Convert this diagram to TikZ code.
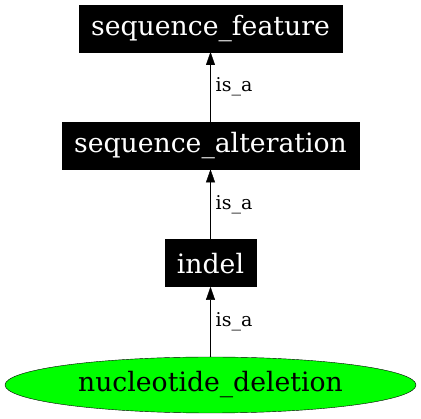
\documentclass[tikz,border=0pt]{standalone}
\usepackage{fontspec}
\setmainfont{DejaVu Serif}
\usetikzlibrary{arrows.meta,positioning,shapes.geometric}
\definecolor{LeafGreen}{RGB}{0,255,0}
\tikzset{
  termbox/.style={draw=black,fill=black,text=white,inner xsep=12pt,inner ysep=0pt,
    minimum height=47pt,font=\fontsize{26.67}{30}\selectfont},
  leafnode/.style={ellipse,draw=black,fill=LeafGreen,thin,inner sep=0pt,
    minimum width=411pt,minimum height=56pt,font=\fontsize{26.67}{30}\selectfont},
  isa/.style={-{Triangle[length=13pt,width=9pt]},black,thin},
  isalabel/.style={midway,anchor=west,inner xsep=5pt,font=\fontsize{19}{20}\selectfont}
}
\begin{document}
\begin{tikzpicture}[node distance=70pt]
  \useasboundingbox (0,0) rectangle (421pt,-419pt);
  \node[leafnode] (del) at (210.5pt,-385pt) {nucleotide\_deletion};
  \node[termbox,above=of del] (indel) {indel};
  \node[termbox,above=of indel] (alt) {sequence\_alteration};
  \node[termbox,above=of alt] (feat) {sequence\_feature};
  \draw[isa] (del) -- node[isalabel] {is\_a} (indel);
  \draw[isa] (indel) -- node[isalabel] {is\_a} (alt);
  \draw[isa] (alt) -- node[isalabel] {is\_a} (feat);
\end{tikzpicture}
\end{document}
